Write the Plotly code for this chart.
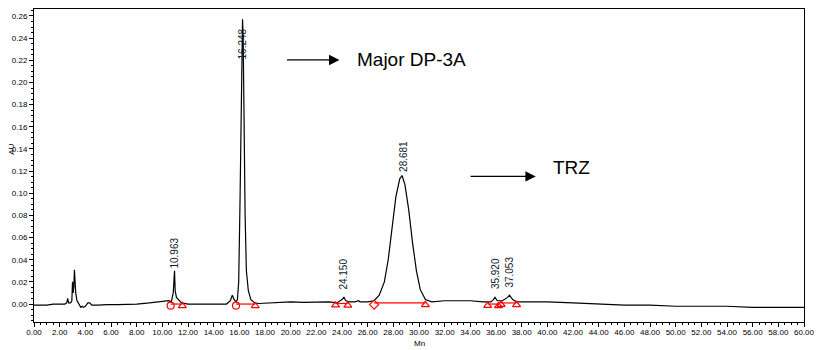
import plotly.graph_objects as go

# Chromatogram trace (time in min, absorbance in AU)
time_min = [0.0, 1.0, 1.5, 2.4, 2.55, 2.62, 2.7, 2.85, 2.95, 3.0, 3.05, 3.1, 3.15, 3.2, 3.25,
            3.35, 3.45, 3.55, 3.65, 3.75, 3.85, 4.0, 4.2, 4.35, 4.5, 5.0, 5.5, 5.6, 5.7, 6.5,
            7.5, 8.0, 9.0, 9.8, 10.2, 10.5, 10.7, 10.85, 10.95, 11.0, 11.1, 11.3, 11.5, 12.0,
            13.0, 14.0, 15.0, 15.3, 15.45, 15.6, 15.75, 15.85, 15.95, 16.05, 16.15, 16.2,
            16.25, 16.3, 16.35, 16.45, 16.55, 16.7, 16.9, 17.2, 17.5, 18.5, 19.0, 20.0, 21.0,
            22.0, 23.0, 23.6, 24.0, 24.15, 24.3, 24.6, 25.0, 25.3, 25.4, 26.0, 26.5, 26.9,
            27.3, 27.6, 27.9, 28.2, 28.5, 28.68, 28.9, 29.2, 29.5, 29.8, 30.1, 30.5, 31.0,
            32.0, 33.0, 34.0, 35.0, 35.6, 35.8, 35.92, 36.1, 36.5, 36.9, 37.05, 37.3, 37.6,
            38.0, 40.0, 42.0, 44.0, 46.0, 48.0, 50.0, 52.0, 54.0, 56.0, 58.0, 60.0]
absorbance = [-0.001, -0.001, 0.0, 0.0, 0.001, 0.005, 0.001, 0.001, 0.003, 0.020, 0.010, 0.015,
              0.031, 0.012, 0.010, 0.003, 0.001, -0.002, -0.003, -0.002, -0.003, -0.002, 0.001,
              0.001, -0.001, -0.001, -0.0005, 0.0, -0.0005, -0.0005, -0.0005, 0.0, 0.001, 0.002,
              0.002, 0.003, 0.002, 0.010, 0.030, 0.012, 0.006, 0.003, 0.001, 0.0, 0.0, 0.0, 0.0,
              0.003, 0.008, 0.004, 0.002, 0.004, 0.020, 0.090, 0.190, 0.240, 0.257, 0.240, 0.170,
              0.080, 0.030, 0.012, 0.004, 0.001, 0.0005, 0.001, 0.0015, 0.002, 0.0015, 0.002,
              0.002, 0.001, 0.004, 0.006, 0.003, 0.002, 0.002, 0.003, 0.002, 0.002, 0.003, 0.008,
              0.020, 0.040, 0.070, 0.097, 0.113, 0.116, 0.108, 0.085, 0.055, 0.030, 0.013, 0.004,
              0.002, 0.003, 0.003, 0.003, 0.002, 0.002, 0.004, 0.006, 0.003, 0.003, 0.006, 0.008,
              0.004, 0.002, 0.002, 0.002, 0.001, 0.0, -0.001, -0.001, -0.002, -0.002, -0.002,
              -0.003, -0.003, -0.003]

# Integrated peaks: retention time, label position (AU)
peak_rt = [10.963, 16.248, 24.150, 28.681, 35.920, 37.053]
peak_label_y = [0.0463, 0.2348, 0.0274, 0.1331, 0.0279, 0.0288]
peak_label_x = [10.97, 16.25, 24.15, 28.78, 35.92, 37.05]

# Integration baselines (start, end, baseline AU) and marker types
int_start = [10.65, 15.74, 23.5, 26.5, 35.35, 36.4]
int_end = [11.56, 17.24, 24.45, 30.5, 36.2, 37.6]
int_level = [0.0, 0.0, 0.0005, 0.001, 0.0, 0.001]
start_symbol = ["circle-open", "circle-open", "triangle-up-open", "diamond-open",
                "triangle-up-open", "triangle-up-open"]

# Callouts
callout_text = ["Major DP-3A", "TRZ"]

x_tick_vals = [i * 2 for i in range(31)]
y_tick_vals = [i * 0.02 for i in range(14)]

font_family = "Liberation Sans, Arial, sans-serif"

fig = go.Figure()
fig.add_trace(go.Scatter(x=time_min, y=absorbance, mode="lines",
                         line=dict(color="black", width=1.2), hoverinfo="skip",
                         showlegend=False))

for s, e, lv, sym in zip(int_start, int_end, int_level, start_symbol):
    fig.add_trace(go.Scatter(x=[s, e], y=[lv, lv], mode="lines",
                             line=dict(color="red", width=1.2), showlegend=False))
    fig.add_trace(go.Scatter(x=[s, e], y=[lv - 0.0015, lv - 0.0017], mode="markers",
                             marker=dict(symbol=[sym, "triangle-up-open"], size=7,
                                         color="red", line=dict(color="red", width=1.2)),
                             showlegend=False))

for rt, lx, ly in zip(peak_rt, peak_label_x, peak_label_y):
    fig.add_annotation(x=lx, y=ly, text=f"{rt:.3f}", showarrow=False, textangle=-90,
                       font=dict(family=font_family, size=10, color="#10202a"))

# Callout arrows and texts
fig.add_annotation(x=23.8, y=0.2203, ax=19.6, ay=0.2203, xref="x", yref="y",
                   axref="x", ayref="y", text="", showarrow=True, arrowhead=2,
                   arrowsize=1.6, arrowwidth=1.3, arrowcolor="black")
fig.add_annotation(x=25.0, y=0.2203, text=callout_text[0], showarrow=False, xanchor="left",
                   font=dict(family=font_family, size=19, color="black"))
fig.add_annotation(x=39.1, y=0.1152, ax=33.9, ay=0.1152, xref="x", yref="y",
                   axref="x", ayref="y", text="", showarrow=True, arrowhead=2,
                   arrowsize=1.6, arrowwidth=1.3, arrowcolor="black")
fig.add_annotation(x=40.3, y=0.1233, text=callout_text[1], showarrow=False, xanchor="left",
                   font=dict(family=font_family, size=19, color="black"))

# Axis titles
fig.add_annotation(x=0, y=0.55, xref="paper", yref="paper", xshift=-22, text="AU",
                   textangle=-90, showarrow=False, xanchor="center", yanchor="middle",
                   font=dict(family=font_family, size=8, color="black"))
fig.add_annotation(x=0.5, y=0, xref="paper", yref="paper", yshift=-21, text="Mn",
                   showarrow=False, xanchor="center", yanchor="middle",
                   font=dict(family=font_family, size=8, color="black"))

fig.update_xaxes(range=[0, 60], tickvals=x_tick_vals, tickformat=".2f",
                 ticks="outside", ticklen=4, tickcolor="black", showline=True,
                 linecolor="black", linewidth=1, mirror=True, showgrid=False, zeroline=False,
                 ticklabelstandoff=-2,
                 tickfont=dict(family=font_family, size=8, color="black"),
                 minor=dict(dtick=0.5, ticks="outside", ticklen=2, tickcolor="black"))
fig.update_yaxes(range=[-0.0162, 0.2663], tickvals=y_tick_vals, tickformat=".2f",
                 ticks="outside", ticklen=4, tickcolor="black", showline=True,
                 linecolor="black", linewidth=1, mirror=True, showgrid=False, zeroline=False,
                 tickfont=dict(family=font_family, size=8, color="black"),
                 minor=dict(dtick=0.005, ticks="outside", ticklen=2, tickcolor="black"))

fig.update_layout(width=823, height=350, margin=dict(l=34, r=14, t=8, b=28),
                  plot_bgcolor="white", paper_bgcolor="white", showlegend=False)

fig.write_html("out.html")
